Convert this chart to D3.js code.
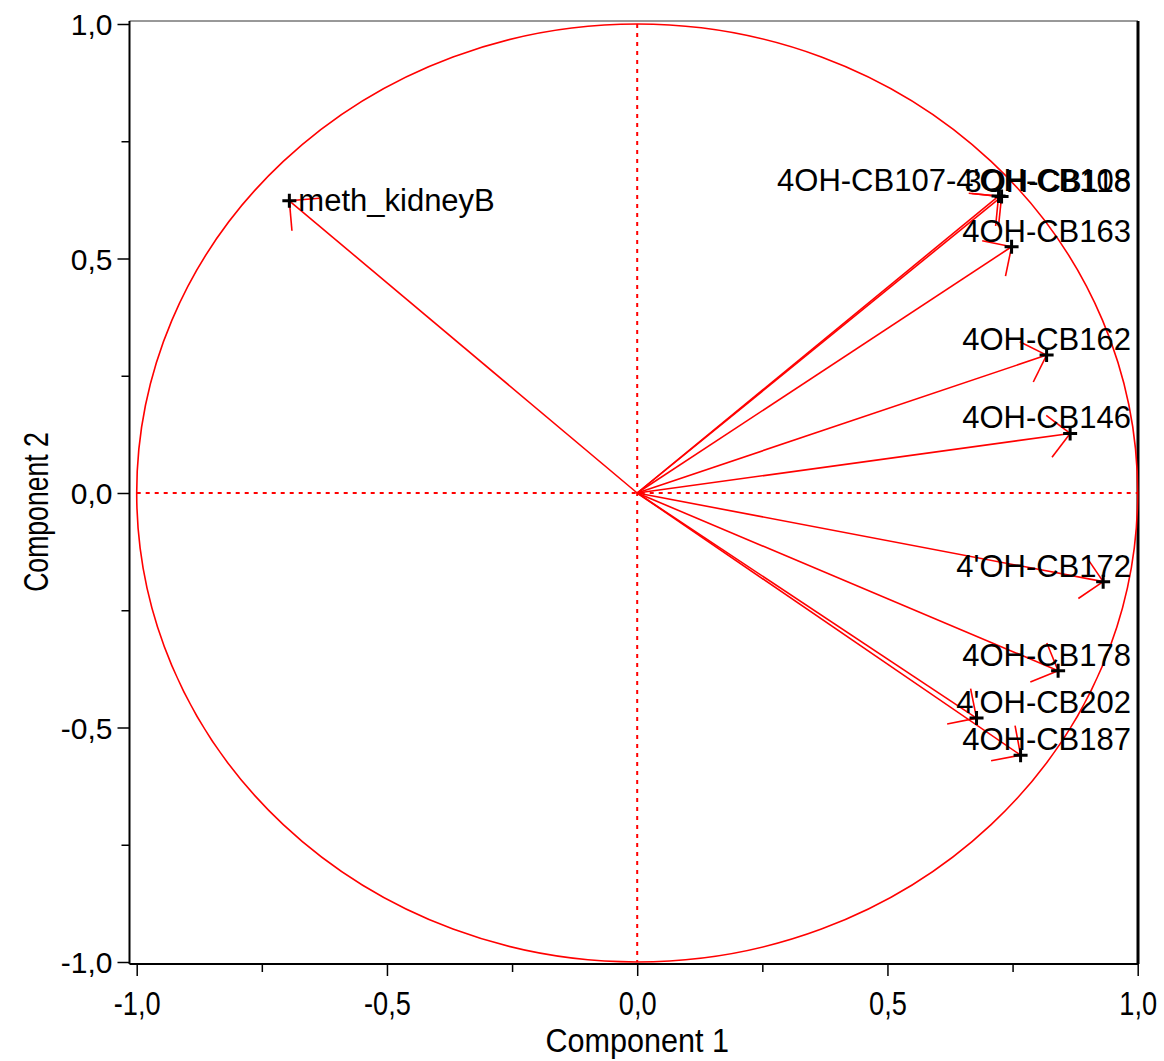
<!DOCTYPE html>
<html><head><meta charset="utf-8">
<script src="https://cdn.jsdelivr.net/npm/d3@7"></script>
<style>
html,body{margin:0;padding:0;background:#fff;}
svg{display:block;}
</style></head>
<body>
<svg id="chart" width="1164" height="1061"></svg>
<script>
// ---- data ----
const variables = ["meth_kidneyB","4OH-CB107-4'OH-CB108","3OH-CB118","4OH-CB163","4OH-CB162","4OH-CB146","4'OH-CB172","4OH-CB178","4'OH-CB202","4OH-CB187"];
const comp1 = [-0.695, 0.722, 0.728, 0.748, 0.818, 0.865, 0.931, 0.841, 0.678, 0.766];
const comp2 = [ 0.623, 0.633, 0.632, 0.525, 0.294, 0.127, -0.189, -0.379, -0.480, -0.559];
const majorTicks = [-1, -0.5, 0, 0.5, 1];
const minorTicks = [-0.75, -0.25, 0.25, 0.75];
const xTitle = "Component 1";
const yTitle = "Component 2";

const svg = d3.select("#chart");
const frame = {left:129.5, right:1138, top:21, bottom:964};
const x = d3.scaleLinear().domain([-1,1]).range([136.7, 1137.7]);
const y = d3.scaleLinear().domain([-1,1]).range([962, 24]);
const fmt = d => d3.format(".1f")(d).replace(".", ",").replace("−","-");
const red = "#ff0000";
const font = "'Liberation Sans',Arial,sans-serif";

// frame
svg.append("line").attr("x1",frame.left).attr("x2",frame.right).attr("y1",frame.top).attr("y2",frame.top).attr("stroke","#333").attr("stroke-width",1);
svg.append("line").attr("x1",frame.right).attr("x2",frame.right).attr("y1",frame.top).attr("y2",frame.bottom).attr("stroke","#000").attr("stroke-width",3);

// axes
const gx = svg.append("g").attr("transform",`translate(0,${frame.bottom})`)
  .call(d3.axisBottom(x).tickValues(majorTicks).tickFormat(fmt).tickSize(12).tickPadding(15));
const gxm = svg.append("g").attr("transform",`translate(0,${frame.bottom})`)
  .call(d3.axisBottom(x).tickValues(minorTicks).tickFormat("").tickSize(8));
const gy = svg.append("g").attr("transform",`translate(${frame.left},0)`)
  .call(d3.axisLeft(y).tickValues(majorTicks).tickFormat(fmt).tickSize(12).tickPadding(5));
const gym = svg.append("g").attr("transform",`translate(${frame.left},0)`)
  .call(d3.axisLeft(y).tickValues(minorTicks).tickFormat("").tickSize(8));
[gx,gxm,gy,gym].forEach(g=>{
  g.select(".domain").remove();
  g.selectAll(".tick line").attr("stroke","#000").attr("stroke-width",1.5);
});
gx.selectAll("text").attr("font-family",font).attr("font-size",34).attr("fill","#000")
  .attr("transform","scale(0.8,1)");
gy.selectAll("text").attr("font-family",font).attr("font-size",30).attr("fill","#000").attr("dy","0.36em");
// axis lines
svg.append("line").attr("x1",frame.left).attr("x2",frame.right).attr("y1",frame.bottom).attr("y2",frame.bottom).attr("stroke","#000").attr("stroke-width",2);
svg.append("line").attr("x1",frame.left).attr("x2",frame.left).attr("y1",frame.top).attr("y2",frame.bottom).attr("stroke","#000").attr("stroke-width",2);

// titles
svg.append("text").attr("transform",`translate(${x(0)},1052) scale(0.9,1)`).attr("text-anchor","middle")
  .attr("font-family",font).attr("font-size",34).text(xTitle);
svg.append("text").attr("transform",`translate(48,512) rotate(-90) scale(0.76,1)`).attr("text-anchor","middle")
  .attr("font-family",font).attr("font-size",35).text(yTitle);

// dashed axes through origin
svg.append("line").attr("x1",x(0)).attr("x2",x(0)).attr("y1",y(1)).attr("y2",y(-1))
  .attr("stroke",red).attr("stroke-width",2).attr("stroke-dasharray","4,5");
svg.append("line").attr("x1",x(-1)).attr("x2",x(1)).attr("y1",y(0)).attr("y2",y(0))
  .attr("stroke",red).attr("stroke-width",2).attr("stroke-dasharray","4,5");

// correlation circle
svg.append("ellipse").attr("cx",x(0)).attr("cy",y(0))
  .attr("rx",x(1)-x(0)).attr("ry",y(0)-y(1))
  .attr("fill","none").attr("stroke",red).attr("stroke-width",1.6);

// arrows
const pts = variables.map((v,i)=>({name:v, c1:comp1[i], c2:comp2[i]}));
const ga = svg.append("g");
pts.forEach(p=>{
  const x0=x(0), y0=y(0), x1=x(p.c1), y1=y(p.c2);
  ga.append("line").attr("x1",x0).attr("y1",y0).attr("x2",x1).attr("y2",y1)
    .attr("stroke",red).attr("stroke-width",1.6);
  const back = Math.atan2(y0-y1, x0-x1);
  const L = 30, a = Math.PI/4;
  [back-a, back+a].forEach(t=>{
    ga.append("line").attr("x1",x1).attr("y1",y1)
      .attr("x2",x1+L*Math.cos(t)).attr("y2",y1+L*Math.sin(t))
      .attr("stroke",red).attr("stroke-width",1.6);
  });
});

// markers and labels
pts.forEach(p=>{
  const px=x(p.c1), py=y(p.c2), s=7;
  svg.append("path").attr("d",`M${px-s},${py}H${px+s}M${px},${py-s}V${py+s}`)
    .attr("stroke","#000").attr("stroke-width",3);
  const t = svg.append("text").attr("font-family",font).attr("font-size",31).attr("fill","#000").text(p.name);
  const w = t.node().getComputedTextLength();
  const limit = frame.right - 7;
  if (px + 9 + w > limit) {
    t.attr("x", limit).attr("text-anchor","end").attr("y", py-5);
  } else {
    t.attr("x", px+9).attr("y", py+10);
  }
});
</script>
</body></html>
